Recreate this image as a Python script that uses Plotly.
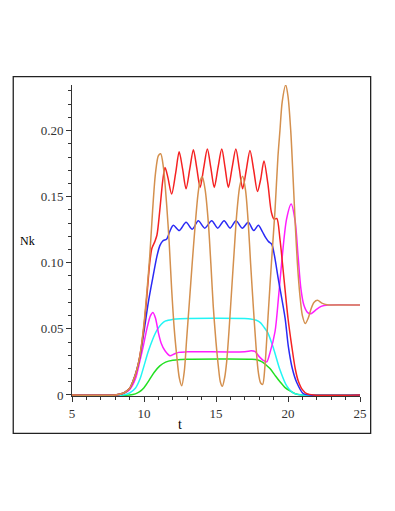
import plotly.graph_objects as go

# values (t, Nk)
t_red = [5, 8.0, 8.6, 9.0, 9.26, 9.5, 9.72, 10.0, 10.2, 10.4, 10.55, 10.75, 10.9, 11.1, 11.3, 11.46,
         11.65, 11.92, 12.2, 12.44, 12.68, 12.92, 13.18, 13.43, 13.66, 13.9, 14.15, 14.4, 14.64, 14.88,
         15.14, 15.4, 15.63, 15.86, 16.12, 16.38, 16.62, 16.85, 17.1, 17.36, 17.62, 17.88, 18.1, 18.33,
         18.6, 18.85, 19.03, 19.22, 19.44, 19.72, 20.0, 20.26, 20.5, 20.7, 21.0, 21.3, 21.8, 25]
nk_red = [0, 0, 0.0015, 0.005, 0.011, 0.019, 0.03, 0.052, 0.075, 0.1, 0.111, 0.116, 0.121, 0.14, 0.162, 0.172,
          0.165, 0.152, 0.168, 0.184, 0.171, 0.156, 0.171, 0.1855, 0.172, 0.157, 0.172, 0.186, 0.172, 0.157,
          0.172, 0.186, 0.172, 0.157, 0.172, 0.186, 0.171, 0.156, 0.17, 0.185, 0.17, 0.154, 0.163, 0.177,
          0.16, 0.138, 0.133, 0.1335, 0.118, 0.088, 0.058, 0.037, 0.02, 0.011, 0.004, 0.001, 0, 0]

t_blue = [5, 8.0, 8.6, 9.0, 9.26, 9.5, 9.72, 10.0, 10.3, 10.6, 10.9, 11.1, 11.3, 11.58, 11.8,
          12.04, 12.45, 12.92, 13.35, 13.77, 14.22, 14.7, 15.12, 15.56, 15.98, 16.39, 16.82, 17.24, 17.62,
          17.94, 18.2, 18.45, 18.65, 18.87, 19.05, 19.33, 19.8, 20.02, 20.3, 20.6, 21.06, 21.5, 25]
nk_blue = [0, 0, 0.0015, 0.005, 0.011, 0.019, 0.029, 0.048, 0.07, 0.088, 0.105, 0.113, 0.1165, 0.118, 0.124,
           0.1284, 0.1244, 0.1306, 0.1254, 0.1318, 0.1262, 0.1318, 0.1262, 0.1318, 0.1262, 0.1318, 0.1262, 0.1306, 0.1244,
           0.1284, 0.124, 0.119, 0.116, 0.114, 0.106, 0.0875, 0.058, 0.037, 0.02, 0.0096, 0.001, 0, 0]

t_orange = [5, 8.0, 8.6, 9.0, 9.26, 9.5, 9.72, 10.0, 10.2, 10.4, 10.6, 10.8, 11.0, 11.16, 11.35, 11.58,
            11.75, 11.92, 12.1, 12.27, 12.45, 12.62, 12.8, 12.96, 13.15, 13.35, 13.55, 13.75, 13.9, 14.05,
            14.25, 14.47, 14.65, 14.81, 15.0, 15.16, 15.3, 15.44, 15.6, 15.74, 15.9, 16.09, 16.27, 16.44,
            16.65, 16.85, 17.05, 17.24, 17.4, 17.59, 17.77, 17.94, 18.1, 18.24, 18.4, 18.63, 18.85, 19.1,
            19.3, 19.44, 19.6, 19.84, 20.0, 20.19, 20.35, 20.5, 20.65, 20.83, 21.0, 21.2, 21.4, 21.6,
            21.8, 22.05, 22.35, 22.7, 23.2, 25]
nk_orange = [0, 0, 0.0015, 0.005, 0.011, 0.019, 0.03, 0.054, 0.078, 0.105, 0.14, 0.168, 0.181, 0.1825, 0.172, 0.143,
             0.115, 0.08, 0.05, 0.03, 0.013, 0.007, 0.018, 0.042, 0.07, 0.1, 0.128, 0.152, 0.162, 0.165,
             0.155, 0.13, 0.098, 0.067, 0.04, 0.022, 0.01, 0.0065, 0.013, 0.025, 0.048, 0.08, 0.11, 0.137,
             0.158, 0.1655, 0.155, 0.13, 0.1, 0.067, 0.038, 0.017, 0.009, 0.008, 0.022, 0.062, 0.1, 0.14,
             0.18, 0.2, 0.222, 0.2345, 0.226, 0.2, 0.165, 0.13, 0.1, 0.075, 0.06, 0.054, 0.058, 0.065,
             0.07, 0.0716, 0.0695, 0.0682, 0.068, 0.068]

t_magenta = [5, 8.0, 8.6, 9.0, 9.4, 9.7, 9.95, 10.2, 10.45, 10.62, 10.8, 11.0, 11.2, 11.46, 11.8, 12.1,
             12.4, 13.0, 17.0, 17.45, 17.7, 18.0, 18.3, 18.52, 18.75, 19.1, 19.35, 19.56, 19.9, 20.22,
             20.49, 20.7, 20.9, 21.1, 21.35, 21.6, 21.9, 22.3, 22.8, 25]
nk_magenta = [0, 0, 0.0012, 0.004, 0.012, 0.025, 0.037, 0.05, 0.06, 0.0624, 0.058, 0.047, 0.039, 0.0334, 0.0297, 0.031,
              0.0322, 0.0326, 0.0327, 0.0334, 0.033, 0.029, 0.026, 0.025, 0.032, 0.048, 0.075, 0.1, 0.133, 0.1445,
              0.132, 0.105, 0.08, 0.068, 0.0625, 0.0615, 0.064, 0.067, 0.068, 0.068]

t_cyan = [5, 8.5, 9.0, 9.4, 9.72, 10.0, 10.3, 10.6, 10.9, 11.2, 11.5, 12.0, 12.5, 17.0, 17.4, 17.8,
          18.1, 18.35, 18.6, 19.0, 19.44, 19.9, 20.3, 20.6, 21.0, 25]
nk_cyan = [0, 0, 0.0015, 0.005, 0.012, 0.022, 0.033, 0.042, 0.049, 0.0535, 0.056, 0.0572, 0.0577, 0.0578, 0.0575, 0.0565,
           0.0545, 0.051, 0.047, 0.035, 0.019, 0.007, 0.002, 0.0006, 0, 0]

t_green = [5, 9.0, 9.4, 9.7, 10.0, 10.35, 10.7, 11.1, 11.5, 12.0, 12.6, 13.0, 17.5, 17.9, 18.2, 18.5,
           18.75, 19.1, 19.44, 19.8, 20.14, 20.5, 21.0, 25]
nk_green = [0, 0, 0.0008, 0.0025, 0.0055, 0.011, 0.017, 0.022, 0.0248, 0.0262, 0.0268, 0.027, 0.027, 0.0265, 0.025, 0.0225,
            0.02, 0.0148, 0.01, 0.0055, 0.003, 0.0009, 0, 0]

x_ticks = [5, 10, 15, 20, 25]
y_ticks = [0, 0.05, 0.10, 0.15, 0.20]
y_labels = ["0", "0.05", "0.10", "0.15", "0.20"]

SERIES = [
    (t_green, nk_green, "#22E022"),
    (t_cyan, nk_cyan, "#22F5F5"),
    (t_magenta, nk_magenta, "#FF1EFF"),
    (t_blue, nk_blue, "#2A2AF5"),
    (t_red, nk_red, "#F52222"),
    (t_orange, nk_orange, "#D4904E"),
]

SERIF = "Times New Roman, Liberation Serif, serif"
INK = "#333333"

fig = go.Figure()
for t, nk, color in SERIES:
    fig.add_trace(go.Scatter(
        x=t, y=nk, mode="lines",
        line=dict(color=color, width=1.5, shape="spline", smoothing=0.8),
        hoverinfo="skip",
    ))

_AXIS = dict(
    showgrid=False, zeroline=False, showline=True, linecolor=INK, linewidth=1,
    ticks="outside", ticklen=5, tickcolor=INK, tickwidth=1,
    tickfont=dict(family=SERIF, size=13, color=INK),
    layer="below traces",
)

# page body has an 8px margin, so the figure is sized to fit inside the window
fig.update_layout(
    width=379, height=495,
    paper_bgcolor="white", plot_bgcolor="white",
    margin=dict(l=64, r=27, t=77, b=107),
    showlegend=False,
    xaxis=dict(range=[5, 25], tickvals=x_ticks,
               minor=dict(dtick=1, ticks="outside", ticklen=3, tickcolor=INK), **_AXIS),
    yaxis=dict(range=[-0.0008, 0.2345], tickvals=y_ticks, ticktext=y_labels,
               minor=dict(dtick=0.01, ticks="outside", ticklen=3, tickcolor=INK), **_AXIS),
    shapes=[dict(type="rect", xref="paper", yref="paper",
                 x0=-0.204, x1=1.037, y0=-0.12, y1=1.027,
                 line=dict(color="#222222", width=1.3))],
    annotations=[
        dict(text="Nk", xref="paper", yref="paper", x=-0.156, y=0.5, showarrow=False,
             xanchor="center", yanchor="middle",
             font=dict(family=SERIF, size=12, color="black")),
        dict(text="t", xref="paper", yref="paper", x=0.375, y=-0.093, showarrow=False,
             xanchor="center", yanchor="middle",
             font=dict(family=SERIF, size=14, color="black")),
    ],
)

fig.write_html("out.html")
